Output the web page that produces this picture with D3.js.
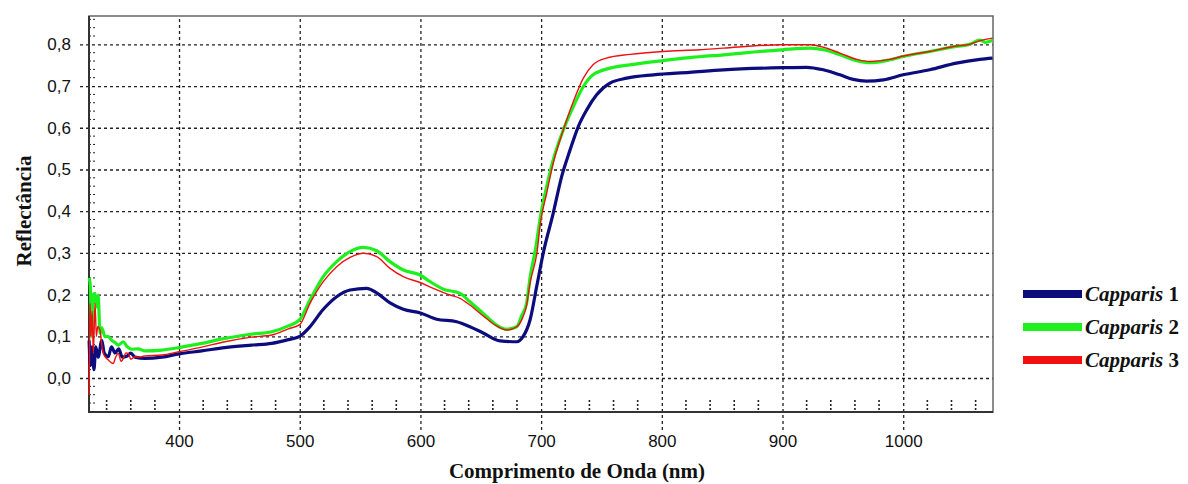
<!DOCTYPE html>
<html lang="pt">
  <head>
    <meta charset="UTF-8">
    <title>Reflectância - Capparis</title>
    <script src="https://cdn.jsdelivr.net/npm/d3@7"></script>
    <style>
      html, body {
        margin: 0;
        padding: 0;
        background: #fff;
      }
      .tick-label {
        font-family: Arial, 'Liberation Sans', sans-serif;
        font-size: 17px;
        fill: #111;
      }
      .axis-title {
        font-family: 'Times New Roman', 'Liberation Serif', serif;
        font-weight: bold;
        font-size: 21px;
        fill: #111;
      }
      .legend-text {
        font-family: 'Times New Roman', 'Liberation Serif', serif;
        font-weight: bold;
        font-size: 21px;
        fill: #111;
      }
    </style>
  </head>
  <body>
    <svg id="chart" width="1188" height="484"></svg>
    <script>
      // Capparis 1
      const wl1 = [325.5, 326.5, 328, 329.5, 331, 333, 336, 338, 341.4, 344, 347, 350, 353, 356.7, 360, 363.5, 371.8, 385.7,
        400, 418.8, 438, 460, 476.8, 490.6, 500, 508.5, 519, 530.6, 541.7, 555.5, 563.8, 574.8, 585.8, 600, 613.5, 630, 641,
        652, 666, 680, 685, 690.8, 696.3, 701.8, 710, 717, 724, 730.8, 737.8, 746, 757, 771, 793, 823, 851, 900, 920, 933.8,
        947.6, 958.6, 969.7, 983.5, 1000, 1022, 1044, 1063.6, 1074];
      const refl1 = [0.09, 0.03, 0.075, 0.02, 0.075, 0.05, 0.09, 0.06, 0.051, 0.075, 0.06, 0.07, 0.05, 0.052, 0.06, 0.05, 0.047, 0.05,
        0.058, 0.065, 0.073, 0.079, 0.083, 0.092, 0.1, 0.123, 0.163, 0.195, 0.211, 0.215, 0.204, 0.18, 0.165, 0.156, 0.141, 0.135, 0.123,
        0.108, 0.089, 0.087, 0.099, 0.139, 0.219, 0.30, 0.395, 0.483, 0.547, 0.603, 0.643, 0.679, 0.707, 0.719, 0.727, 0.733, 0.739, 0.744, 0.745, 0.739,
        0.727, 0.716, 0.712, 0.715, 0.727, 0.739, 0.755, 0.764, 0.767];

      // Capparis 2
      const wl2 = [325.5, 326.5, 327.7, 329, 330.4, 332, 333, 334.5, 336, 338.7, 341, 344, 347, 349.7, 353.9, 357, 360.8, 366, 371.8, 385.7,
        400, 418.8, 438, 460, 476.8, 490.6, 500, 508.5, 519.5, 530.6, 541.7, 552.7, 563.8, 574.8, 585.8, 599.7, 608, 619, 632.8, 641,
        652, 663, 671.5, 679.8, 684, 688, 690.8, 696, 699, 704.6, 710, 718.4, 726.7, 735, 743, 757, 773.7, 801, 823, 851, 899.5, 923, 934,
        947.6, 961.5, 972.5, 989, 1000, 1022, 1044, 1055, 1063.6, 1068, 1074];
      const refl2 = [0.24, 0.22, 0.10, 0.2, 0.203, 0.17, 0.199, 0.107, 0.12, 0.099, 0.1, 0.091, 0.085, 0.079, 0.087, 0.075, 0.069, 0.07, 0.065, 0.067,
        0.073, 0.083, 0.095, 0.105, 0.111, 0.125, 0.14, 0.187, 0.243, 0.279, 0.303, 0.313, 0.305, 0.279, 0.259, 0.247, 0.231, 0.213, 0.203, 0.183,
        0.155, 0.127, 0.117, 0.123, 0.15, 0.18, 0.24, 0.32, 0.379, 0.459, 0.523, 0.595, 0.651, 0.699, 0.727, 0.743, 0.751, 0.761, 0.768, 0.775, 0.787, 0.791, 0.787,
        0.775, 0.761, 0.756, 0.763, 0.771, 0.783, 0.795, 0.80, 0.81, 0.805, 0.809];

      // Capparis 3
      const wl3 = [325.4, 325.8, 326.3, 327, 328, 329, 330.4, 331.5, 332.6, 334.5, 336, 337.3, 339, 341.4, 345.5, 347.5, 349.7, 352, 353.9, 356,
        358, 360, 363.5, 367, 371.8, 385.7, 400, 418.8, 438, 460, 476.8, 490.6, 500, 508.5, 519.5, 530.6, 541.7, 552.7, 563.8, 574.8,
        585.8, 599.7, 610.7, 624.5, 632.8, 641, 652, 663, 671.5, 679.8, 684, 688, 690.8, 697, 699, 704.6, 710, 718.4, 726.7, 735, 743, 754,
        773.7, 801, 831.6, 851, 899.5, 923, 934, 947.6, 961.5, 972.5, 989, 1000, 1022, 1044, 1055, 1063.6, 1068, 1074];
      const refl3 = [-0.04, 0.05, 0.179, 0.1, 0.16, 0.059, 0.179, 0.1, 0.123, 0.115, 0.08, 0.059, 0.05, 0.043, 0.035, 0.05, 0.059, 0.04, 0.047, 0.06,
        0.059, 0.045, 0.051, 0.05, 0.053, 0.055, 0.063, 0.074, 0.087, 0.098, 0.103, 0.118, 0.128, 0.179, 0.231, 0.267, 0.289, 0.299, 0.291, 0.263,
        0.243, 0.229, 0.215, 0.199, 0.191, 0.175, 0.149, 0.125, 0.115, 0.123, 0.14, 0.175, 0.227, 0.31, 0.363, 0.443, 0.515, 0.595, 0.663, 0.719, 0.751, 0.767,
        0.776, 0.783, 0.787, 0.791, 0.799, 0.799, 0.793, 0.779, 0.764, 0.759, 0.764, 0.772, 0.783, 0.796, 0.80, 0.809, 0.812, 0.815];

      const seriesNames = ["Capparis", "Capparis", "Capparis"];
      const seriesNums = ["1", "2", "3"];
      const xTicks = [400, 500, 600, 700, 800, 900, 1000];
      const yTicks = [0.0, 0.1, 0.2, 0.3, 0.4, 0.5, 0.6, 0.7, 0.8];

      const colors = ["#0c0c7c", "#1ef01e", "#f01010"];
      const widths = [3.2, 3.2, 1.4];

      const pLeft = 89, pTop = 16, pRight = 993, pBottom = 412;
      const svg = d3.select("#chart");

      const x = d3.scaleLinear().domain([325.4, 1074.4]).range([pLeft, pRight]);
      const y = d3.scaleLinear().domain([-0.0815, 0.868]).range([pBottom, pTop]);

      // minor ticks
      const minorX = d3.range(340, 1075, 20).filter(d => d % 100 !== 0);
      svg.append("g").selectAll("line")
        .data(minorX)
        .enter()
        .append("line")
        .attr("x1", d => x(d)).attr("x2", d => x(d))
        .attr("y1", pBottom - 12).attr("y2", pBottom)
        .attr("stroke", "#222").attr("stroke-width", 1.6)
        .attr("stroke-dasharray", "2,2");

      const minorY = d3.range(-0.06, 0.87, 0.02).filter(d => Math.abs(Math.round(d * 10) - d * 10) > 0.01);
      svg.append("g").selectAll("line")
        .data(minorY)
        .enter()
        .append("line")
        .attr("x1", pLeft).attr("x2", pLeft + 8)
        .attr("y1", d => y(d)).attr("y2", d => y(d))
        .attr("stroke", "#222").attr("stroke-width", 1)
        .attr("stroke-dasharray", "2,2");

      // grid + labels
      const yAxis = d3.axisLeft(y)
        .tickValues(yTicks)
        .tickSize(-(pRight - 80))
        .tickPadding(9)
        .tickFormat(d => d3.format(".1f")(d).replace(".", ","));

      const gy = svg.append("g")
        .attr("transform", "translate(80,0)")
        .call(yAxis);
      gy.select(".domain").remove();
      gy.selectAll("line")
        .attr("stroke", "#222").attr("stroke-width", 1.3)
        .attr("stroke-dasharray", "3,3");
      gy.selectAll("text").attr("class", "tick-label").attr("fill", null);

      const xAxis = d3.axisBottom(x)
        .tickValues(xTicks)
        .tickSize(-(430 - pTop))
        .tickPadding(5)
        .tickFormat(d3.format("d"));

      const gx = svg.append("g")
        .attr("transform", "translate(0,430)")
        .call(xAxis);
      gx.select(".domain").remove();
      gx.selectAll("line")
        .attr("stroke", "#222").attr("stroke-width", 1.3)
        .attr("stroke-dasharray", "3,3");
      gx.selectAll("text").attr("class", "tick-label").attr("fill", null);

      // frame
      svg.append("rect")
        .attr("x", pLeft).attr("y", pTop)
        .attr("width", pRight - pLeft).attr("height", pBottom - pTop)
        .attr("fill", "none").attr("stroke", "#666").attr("stroke-width", 1.5);
      svg.append("path")
        .attr("d", `M${pLeft},${pTop}V${pBottom}H${pRight}`)
        .attr("fill", "none").attr("stroke", "#333").attr("stroke-width", 2);

      // curves
      const line = d3.line()
        .x(d => x(d[0]))
        .y(d => y(d[1]))
        .curve(d3.curveMonotoneX);

      const series = [
        d3.zip(wl1, refl1),
        d3.zip(wl2, refl2),
        d3.zip(wl3, refl3)
      ];

      svg.append("g").selectAll("path")
        .data(series)
        .enter()
        .append("path")
        .attr("d", line)
        .attr("fill", "none")
        .attr("stroke", (d, i) => colors[i])
        .attr("stroke-width", (d, i) => widths[i])
        .attr("stroke-linejoin", "round");

      // axis titles
      svg.append("text")
        .attr("class", "axis-title")
        .attr("text-anchor", "middle")
        .attr("transform", "translate(31,211) rotate(-90)")
        .text("Reflectância");

      svg.append("text")
        .attr("class", "axis-title")
        .attr("text-anchor", "middle")
        .attr("x", 577).attr("y", 478)
        .text("Comprimento de Onda (nm)");

      // legend
      const legendY = [294, 327, 360];
      const lg = svg.append("g");
      lg.selectAll("rect")
        .data(seriesNames)
        .enter()
        .append("rect")
        .attr("x", 1023).attr("y", (d, i) => legendY[i] - 4)
        .attr("width", 59).attr("height", 8)
        .attr("fill", (d, i) => colors[i]);

      const lt = lg.selectAll("text")
        .data(seriesNames)
        .enter()
        .append("text")
        .attr("class", "legend-text")
        .attr("x", 1085).attr("y", (d, i) => legendY[i] + 7);
      lt.append("tspan").attr("font-style", "italic").text(d => d);
      lt.append("tspan").text((d, i) => " " + seriesNums[i]);
    </script>
  </body>
</html>
